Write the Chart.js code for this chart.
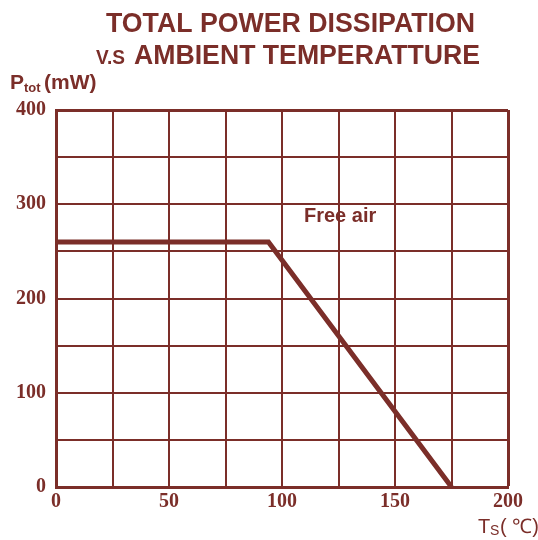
<!DOCTYPE html>
<html>
<head>
<meta charset="utf-8">
<script src="https://cdn.jsdelivr.net/npm/chart.js@4/dist/chart.umd.min.js"></script>
<style>
  html, body { margin: 0; padding: 0; background: #fff; }
  #wrap { width: 538px; height: 540px; position: relative; }
</style>
</head>
<body>
<div id="wrap"><canvas id="chart_pd"></canvas></div>
<script>
// -------- data
const temps = [0, 94, 175];          // Ts (degC)
const power = [260, 260, 0];          // Ptot (mW)
const x_ticks = [0, 50, 100, 150, 200];
const y_ticks = [0, 100, 200, 300, 400];
const title_lines = ['TOTAL POWER DISSIPATION', 'AMBIENT TEMPERATTURE'];
const note_text = 'Free air';

const maroon = '#7b2e29';

// extra text (title, axis names, note) drawn on the canvas
const text_plugin = {
	id: 'text_plugin',
	afterDraw(chart) {
		const ctx = chart.ctx;
		ctx.save();
		ctx.fillStyle = maroon;
		ctx.textBaseline = 'alphabetic';
		// title
		ctx.font = 'bold 27px "Liberation Sans", Arial, sans-serif';
		ctx.textAlign = 'left';
		ctx.fillText(title_lines[0], 106, 32, 369);
		ctx.font = 'bold 21px "Liberation Sans", Arial, sans-serif';
		ctx.fillText('V.S', 96, 64, 29);
		ctx.font = 'bold 27px "Liberation Sans", Arial, sans-serif';
		ctx.fillText(title_lines[1], 134, 64, 346);
		// y name
		ctx.font = 'bold 21px "Liberation Sans", Arial, sans-serif';
		ctx.fillText('P', 10, 89);
		ctx.font = 'bold 13px "Liberation Sans", Arial, sans-serif';
		ctx.fillText('tot', 24, 92);
		ctx.font = 'bold 21px "Liberation Sans", Arial, sans-serif';
		ctx.fillText('(mW)', 44, 89);
		// x name
		ctx.font = '20px "Liberation Sans", Arial, sans-serif';
		ctx.fillText('T', 478, 533);
		ctx.font = '14px "Liberation Sans", Arial, sans-serif';
		ctx.fillText('S', 490, 535);
		ctx.font = '20px "Liberation Sans", Arial, sans-serif';
		ctx.fillText('( \u2103)', 500, 533);
		// note
		ctx.font = 'bold 20px "Liberation Sans", Arial, sans-serif';
		ctx.fillText(note_text, 304, 222);
		ctx.restore();
	}
};

const line_data = temps.map((t, i) => ({x: t, y: power[i]}));

new Chart(document.getElementById('chart_pd'), {
	type: 'line',
	data: {
		datasets: [{
			data: line_data,
			borderColor: maroon,
			backgroundColor: maroon,
			borderWidth: 5,
			pointRadius: 0,
			tension: 0,
			fill: false
		}]
	},
	options: {
		responsive: true,
		maintainAspectRatio: false,
		animation: false,
		layout: { padding: { top: 110, right: 30, left: 0, bottom: 0 } },
		plugins: { legend: { display: false }, title: { display: false }, tooltip: { enabled: false } },
		scales: {
			x: {
				type: 'linear',
				min: 0,
				max: 200,
				afterFit: function(scale) { scale.height = 53; },
				ticks: {
					stepSize: 25,
					autoSkip: false,
					maxRotation: 0,
					padding: 3,
					color: maroon,
					font: { family: '"Liberation Serif", serif', size: 20, weight: 'bold' },
					callback: function(v) { return x_ticks.includes(v) ? String(v) : ''; }
				},
				grid: {
					color: maroon,
					lineWidth: ctx => (ctx.tick && ctx.tick.value === 200) ? 3 : 2,
					drawTicks: false
				},
				border: { color: maroon, width: 3 }
			},
			y: {
				type: 'linear',
				min: 0,
				max: 400,
				afterFit: function(scale) { scale.width = 56; },
				ticks: {
					stepSize: 50,
					autoSkip: false,
					padding: 10,
					color: maroon,
					font: { family: '"Liberation Serif", serif', size: 20, weight: 'bold' },
					callback: function(v) { return y_ticks.includes(v) ? String(v) : ''; }
				},
				grid: {
					color: maroon,
					lineWidth: ctx => (ctx.tick && ctx.tick.value === 400) ? 3 : 2,
					drawTicks: false
				},
				border: { color: maroon, width: 3 }
			}
		}
	},
	plugins: [text_plugin]
});
</script>
</body>
</html>
